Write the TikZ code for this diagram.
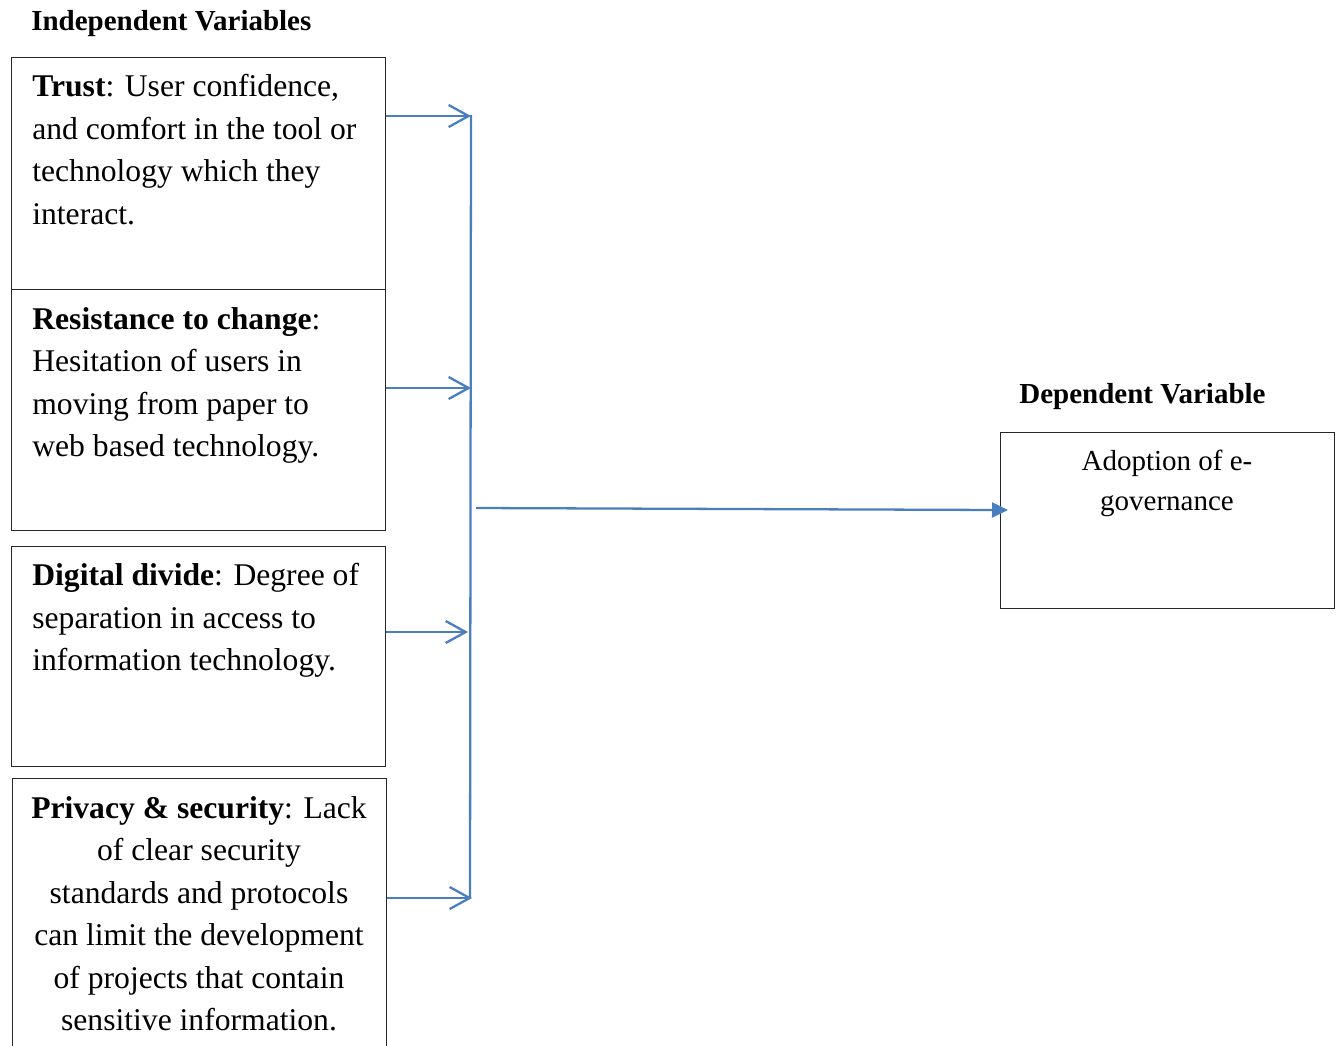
\documentclass[tikz,border=0pt]{standalone}
\usepackage{fontspec}
\setmainfont{Liberation Serif}
\usetikzlibrary{positioning, arrows.meta}
\definecolor{linkblue}{RGB}{74, 126, 190}
\tikzset{
  varbox/.style={draw=black!85, line width=0.8pt, minimum width=7.48cm, anchor=north west, inner sep=0pt},
  vartext/.style={anchor=north west, inner sep=0pt, align=left, font=\fontsize{18}{24.2}\selectfont},
  headtext/.style={anchor=base west, inner sep=0pt, font=\fontsize{16.5}{20}\selectfont\bfseries},
  feed/.style={-{Straight Barb[length=4mm, width=4.4mm, line width=1.3pt]}, linkblue, line width=1.3pt},
  flow/.style={-{Triangle[length=3.2mm, width=3mm]}, linkblue, line width=1.3pt},
}

\begin{document}
\begin{tikzpicture}[x=0.02cm, y=-0.02cm]
  \path[use as bounding box] (0,0) rectangle (1341,1045);

  % independent variables
  \node[headtext] (indep) at (31,30) {Independent Variables};
  \node[varbox, minimum height=4.64cm] (trust) at (11,57) {};
  \node[varbox, minimum height=4.82cm] (resist) at (11,289) {};
  \node[varbox, minimum height=4.40cm] (divide) at (11,546) {};
  \node[varbox, minimum height=5.60cm] (privacy) at (12,778) {};

  \node[vartext] (trusttxt) at (32,74)
    {\textbf{Trust}: User confidence,\\ and comfort in the tool or\\ technology which they\\ interact.};
  \node[vartext] (resisttxt) at (32,307)
    {\textbf{Resistance to change}:\\ Hesitation of users in\\ moving from paper to\\ web based technology.};
  \node[vartext] (dividetxt) at (32,563)
    {\textbf{Digital divide}: Degree of\\ separation in access to\\ information technology.};
  \node[vartext, anchor=north, align=center] (privacytxt) at (199,796)
    {\textbf{Privacy \& security}: Lack\\ of clear security\\ standards and protocols\\ can limit the development\\ of projects that contain\\ sensitive information.};

  % dependent variable
  \node[headtext] (dep) at (1019,403) {Dependent Variable};
  \node[varbox, minimum width=6.68cm, minimum height=3.52cm] (adopt) at (1000,432) {};
  \node[vartext, anchor=north, align=center, font=\fontsize{16.5}{22.7}\selectfont] (adopttxt) at (1167,450)
    {Adoption of e-\\ governance};

  % bus and arrows
  \coordinate (bustop) at (471,115);
  \coordinate (busbot) at (470,898);
  \coordinate (b1) at (471,116);
  \coordinate (b2) at (471,388);
  \coordinate (b3) at (468,632);
  \coordinate (b4) at (472,898);
  \coordinate (busout) at (476,508);

  \draw[linkblue, line width=1.3pt] (bustop) -- (busbot);
  \draw[feed] (b1 -| trust.east) -- (b1);
  \draw[feed] (b2 -| resist.east) -- (b2);
  \draw[feed] (b3 -| divide.east) -- (b3);
  \draw[feed] (b4 -| privacy.east) -- (b4);
  \draw[flow, shorten >=-0.16cm] (busout) -- (adopt.west |- 0,510);
\end{tikzpicture}
\end{document}
